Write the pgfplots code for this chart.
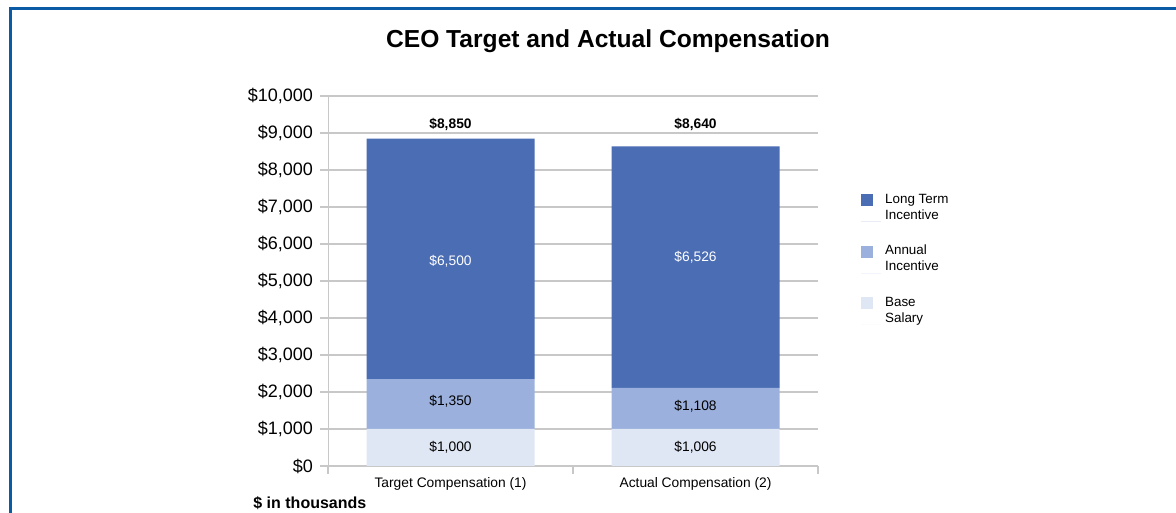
\documentclass[border=0pt]{standalone}
\usepackage{pgfplots}
\pgfplotsset{compat=1.18}
\usepackage{fontspec}
\setmainfont{Liberation Sans}
\definecolor{ltiblue}{HTML}{4A6DB3}
\definecolor{aiblue}{HTML}{9BB0DC}
\definecolor{bsblue}{HTML}{DFE6F4}
\definecolor{framebl}{HTML}{0A5AA5}
\definecolor{gridgr}{HTML}{C8C8C8}
\newcommand\smf{\fontsize{6.9}{8}\selectfont}
\newcommand\tkf{\fontsize{9}{10}\selectfont}
\newcommand\lgf{\fontsize{6.7}{8}\selectfont}
\begin{document}
\begin{tikzpicture}
\path[use as bounding box] (0,0) rectangle (588pt,256.5pt);
\draw[framebl, line width=1.5pt] (5pt,0) -- (5pt,252pt) -- (588pt,252pt);
\node[font=\fontsize{12.3}{15}\selectfont\bfseries] at (304pt,236pt) {CEO Target and Actual Compensation};
\node[anchor=west, font=\fontsize{8}{9}\selectfont\bfseries, inner sep=0pt] at (126.5pt,5pt) {\$ in thousands};
\begin{axis}[
  at={(164pt,23.5pt)}, anchor=south west,
  scale only axis, width=245pt, height=185pt,
  ybar stacked, bar width=84pt,
  xmin=-0.5, xmax=1.5, ymin=0, ymax=10000,
  xtick={-0.5,0.5,1.5}, xticklabels={},
  extra x ticks={0,1},
  extra x tick labels={Target Compensation (1), Actual Compensation (2)},
  extra x tick style={major tick length=0pt},
  ytick={0,1000,...,10000},
  scaled y ticks=false,
  yticklabels={\$0,\$1{,}000,\$2{,}000,\$3{,}000,\$4{,}000,\$5{,}000,\$6{,}000,\$7{,}000,\$8{,}000,\$9{,}000,\$10{,}000},
  axis x line*=bottom, axis y line*=left,
  axis line style={gridgr},
  ymajorgrids, grid style={gridgr, line width=0.6pt},
  tick align=outside, major tick length=4pt,
  tick style={gridgr, line width=0.6pt},
  yticklabel style={font=\tkf},
  xticklabel style={font=\smf, yshift=-2pt},
  legend style={draw=none, fill=none, at={(1.075,0.758)}, anchor=north west,
    font=\lgf, row sep=7.5pt},
  legend cell align=left,
  reverse legend,
]
\addplot[fill=bsblue, draw=none, legend image code/.code={\fill[bsblue] (0pt,0.8pt) rectangle (6pt,6.8pt); \path (0pt,-6.8pt) -- (10pt,-6.8pt);}] coordinates {(0,1000) (1,1006)};
\addlegendentry[align=left]{Base\\Salary}
\addplot[fill=aiblue, draw=none, legend image code/.code={\fill[aiblue] (0pt,0.8pt) rectangle (6pt,6.8pt); \path (0pt,-6.8pt) -- (10pt,-6.8pt);}] coordinates {(0,1350) (1,1108)};
\addlegendentry[align=left]{Annual\\Incentive}
\addplot[fill=ltiblue, draw=none, legend image code/.code={\fill[ltiblue] (0pt,0.8pt) rectangle (6pt,6.8pt); \path (0pt,-6.8pt) -- (10pt,-6.8pt);}] coordinates {(0,6500) (1,6526)};
\addlegendentry[align=left]{Long Term\\Incentive}
\coordinate (t1) at (axis cs:0,513);
\coordinate (a1) at (axis cs:1,513);
\coordinate (t2) at (axis cs:0,1757);
\coordinate (a2) at (axis cs:1,1620);
\coordinate (t3) at (axis cs:0,5540);
\coordinate (a3) at (axis cs:1,5650);
\coordinate (t4) at (axis cs:0,9220);
\coordinate (a4) at (axis cs:1,9220);
\end{axis}
\node[font=\smf] at (t1) {\$1,000};
\node[font=\smf] at (a1) {\$1,006};
\node[font=\smf] at (t2) {\$1,350};
\node[font=\smf] at (a2) {\$1,108};
\node[font=\smf, text=white] at (t3) {\$6,500};
\node[font=\smf, text=white] at (a3) {\$6,526};
\node[font=\smf\bfseries] at (t4) {\$8,850};
\node[font=\smf\bfseries] at (a4) {\$8,640};
\end{tikzpicture}
\end{document}
